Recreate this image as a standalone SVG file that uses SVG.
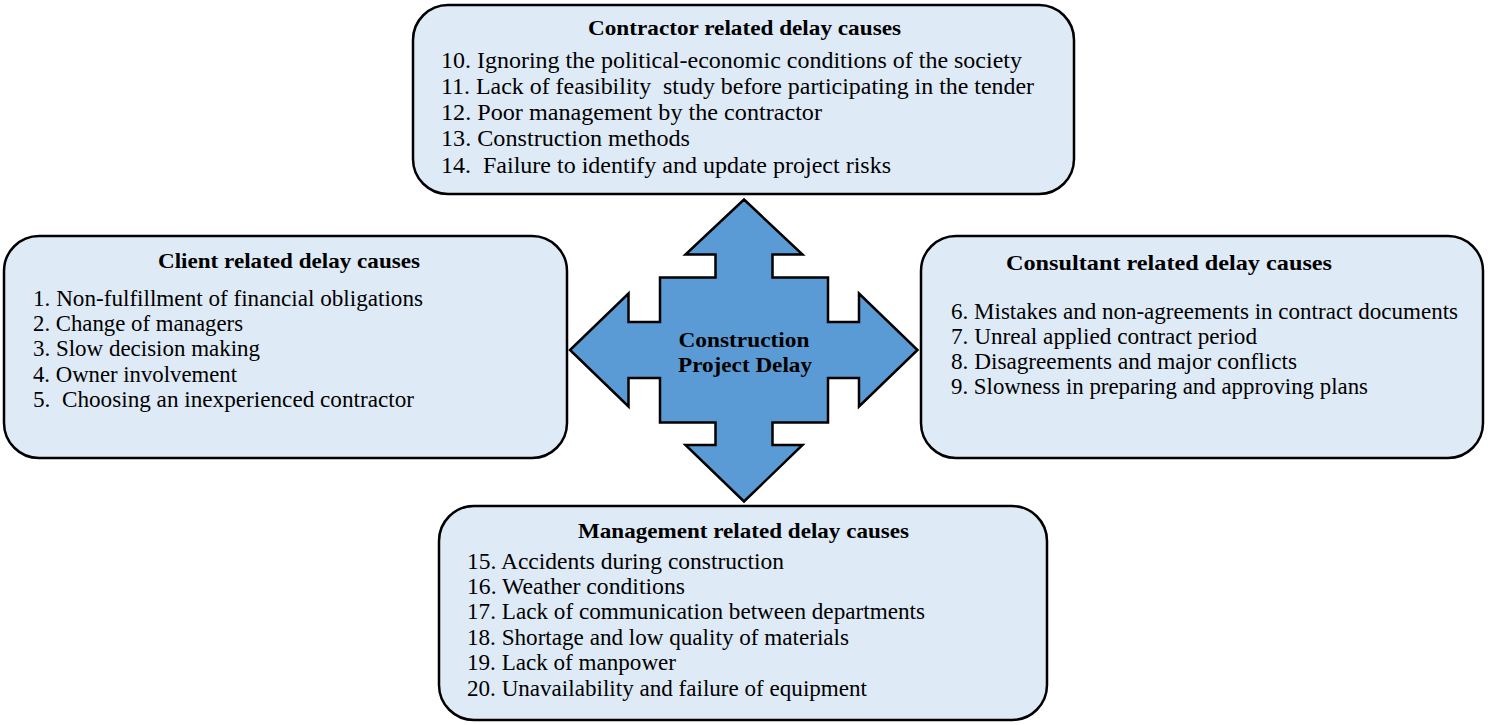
<svg xmlns="http://www.w3.org/2000/svg" width="1488" height="725" viewBox="0 0 1488 725">
<style>
.box{fill:#DEEAF6;stroke:#000;stroke-width:2.5}
.t{font-family:"Liberation Serif","Times New Roman",serif;font-size:22.5px;fill:#000}
.h{font-family:"Liberation Serif","Times New Roman",serif;font-size:22px;font-weight:bold;fill:#000}
.c{font-family:"Liberation Serif","Times New Roman",serif;font-size:21px;font-weight:bold;fill:#000}
.arrow{fill:#5B9BD5;stroke:#000;stroke-width:2.5;stroke-linejoin:miter}
</style>
<rect width="1488" height="725" fill="#fff"/>
<g id="connectors">
<polygon class="arrow" points="744,199.5 802.5,254.5 772.5,254.5 772.5,277.5 828,277.5 828,322 859,322 859,293.5 917.5,350 859,406.5 859,378 828,378 828,422.5 772.5,422.5 772.5,445 802.5,445 744,501.5 685.5,445 715.5,445 715.5,422.5 660,422.5 660,378 628.5,378 628.5,406.5 570,350 628.5,293.5 628.5,322 660,322 660,277.5 715.5,277.5 715.5,254.5 685.5,254.5"/>
</g>
<g id="center">
<text class="c" x="744" y="347" text-anchor="middle" textLength="131" lengthAdjust="spacingAndGlyphs">Construction</text>
<text class="c" x="745" y="372" text-anchor="middle" textLength="134" lengthAdjust="spacingAndGlyphs">Project Delay</text>
</g>
<g id="contractor">
<rect class="box" x="413" y="5" width="661" height="189" rx="35" ry="35"/>
<text class="h" x="588" y="35" textLength="313" lengthAdjust="spacingAndGlyphs">Contractor related delay causes</text>
<text class="t" x="441" y="68" textLength="581" lengthAdjust="spacingAndGlyphs">10. Ignoring the political-economic conditions of the society</text>
<text class="t" x="441" y="94" textLength="593" lengthAdjust="spacingAndGlyphs" xml:space="preserve">11. Lack of feasibility  study before participating in the tender</text>
<text class="t" x="441" y="120" textLength="381" lengthAdjust="spacingAndGlyphs">12. Poor management by the contractor</text>
<text class="t" x="441" y="146" textLength="249" lengthAdjust="spacingAndGlyphs">13. Construction methods</text>
<text class="t" x="441" y="173" textLength="450" lengthAdjust="spacingAndGlyphs" xml:space="preserve">14.  Failure to identify and update project risks</text>
</g>
<g id="client">
<rect class="box" x="4" y="236" width="563" height="222" rx="35" ry="35"/>
<text class="h" x="158" y="268" textLength="262" lengthAdjust="spacingAndGlyphs">Client related delay causes</text>
<text class="t" x="33" y="306" textLength="390" lengthAdjust="spacingAndGlyphs">1. Non-fulfillment of financial obligations</text>
<text class="t" x="33" y="331" textLength="210" lengthAdjust="spacingAndGlyphs">2. Change of managers</text>
<text class="t" x="33" y="356" textLength="227" lengthAdjust="spacingAndGlyphs">3. Slow decision making</text>
<text class="t" x="33" y="381.5" textLength="204" lengthAdjust="spacingAndGlyphs">4. Owner involvement</text>
<text class="t" x="33" y="406.5" textLength="381" lengthAdjust="spacingAndGlyphs" xml:space="preserve">5.  Choosing an inexperienced contractor</text>
</g>
<g id="consultant">
<rect class="box" x="921" y="236" width="562" height="222" rx="35" ry="35"/>
<text class="h" x="1006" y="270" textLength="326" lengthAdjust="spacingAndGlyphs">Consultant related delay causes</text>
<text class="t" x="951" y="318.5" textLength="507" lengthAdjust="spacingAndGlyphs">6. Mistakes and non-agreements in contract documents</text>
<text class="t" x="951" y="344" textLength="306" lengthAdjust="spacingAndGlyphs">7. Unreal applied contract period</text>
<text class="t" x="951" y="369" textLength="346" lengthAdjust="spacingAndGlyphs">8. Disagreements and major conflicts</text>
<text class="t" x="951" y="394" textLength="417" lengthAdjust="spacingAndGlyphs">9. Slowness in preparing and approving plans</text>
</g>
<g id="management">
<rect class="box" x="439" y="506" width="608" height="214" rx="35" ry="35"/>
<text class="h" x="578" y="538" textLength="331" lengthAdjust="spacingAndGlyphs">Management related delay causes</text>
<text class="t" x="467" y="569" textLength="317" lengthAdjust="spacingAndGlyphs">15. Accidents during construction</text>
<text class="t" x="467" y="594" textLength="218" lengthAdjust="spacingAndGlyphs">16. Weather conditions</text>
<text class="t" x="467" y="619" textLength="458" lengthAdjust="spacingAndGlyphs">17. Lack of communication between departments</text>
<text class="t" x="467" y="645" textLength="382" lengthAdjust="spacingAndGlyphs">18. Shortage and low quality of materials</text>
<text class="t" x="467" y="670" textLength="209" lengthAdjust="spacingAndGlyphs">19. Lack of manpower</text>
<text class="t" x="467" y="696" textLength="400" lengthAdjust="spacingAndGlyphs">20. Unavailability and failure of equipment</text>
</g>
</svg>
